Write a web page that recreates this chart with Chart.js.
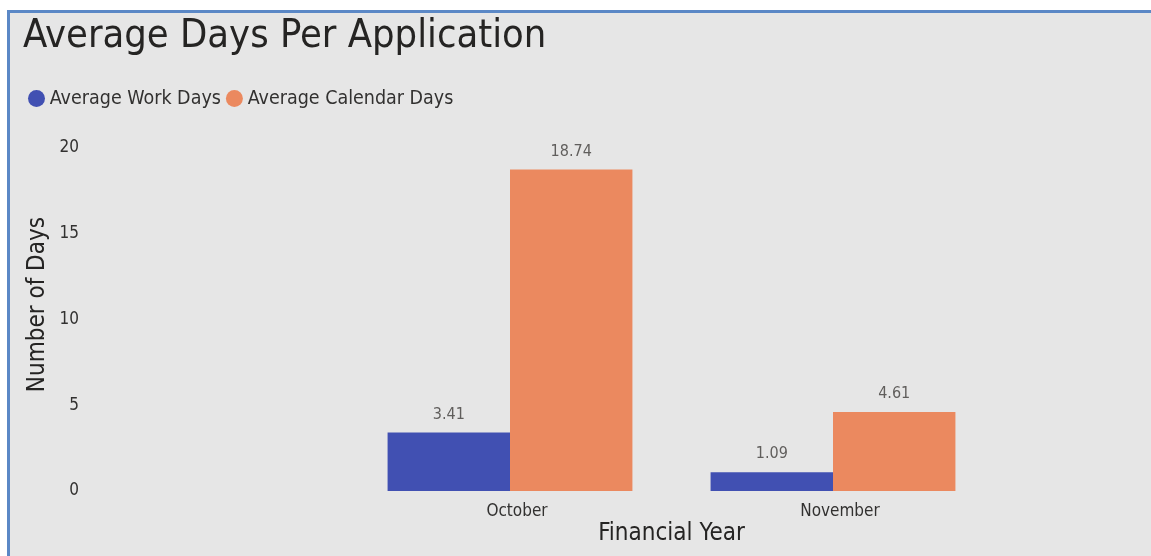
<!DOCTYPE html>
<html>
<head>
<meta charset="utf-8">
<script src="https://cdn.jsdelivr.net/npm/chart.js@4.4.1/dist/chart.umd.min.js"></script>
<style>
	html, body { margin: 0; padding: 0; background: #ffffff; }
	#frame {
		position: absolute; left: 7px; top: 10px; width: 1144px; height: 546px;
		background: #e6e6e6; border-left: 3px solid #5b88c6; border-top: 3px solid #5b88c6;
	}
	#wrap { position: absolute; left: 0; top: 0; width: 1151px; height: 556px; }
</style>
</head>
<body>
<div id="frame"></div>
<div id="wrap"><canvas id="myChart" width="1151" height="556"></canvas></div>
<script>
var months = ['October', 'November'];
var workDays = [3.41, 1.09];
var calendarDays = [18.74, 4.61];
var yTicks = [0, 5, 10, 15, 20];
var yMax = 21.73;

var fontName = "'Liberation Sans Narrow', 'DejaVu Sans Condensed', sans-serif";

// draw the value above every bar
var valueLabels = {
	id: 'valueLabels',
	afterDatasetsDraw: function(chart) {
		var ctx = chart.ctx;
		ctx.save();
		ctx.font = '16px ' + fontName;
		ctx.fillStyle = '#605e5c';
		ctx.textAlign = 'center';
		ctx.textBaseline = 'bottom';
		chart.data.datasets.forEach(function(ds, i) {
			chart.getDatasetMeta(i).data.forEach(function(bar, j) {
				ctx.fillText(ds.data[j].toFixed(2), bar.x, bar.y - 10);
			});
		});
		ctx.restore();
	}
};

var chartdata = {
	labels: months,
	datasets: [
		{
			label: 'Average Work Days',
			backgroundColor: '#4150b2',
			data: workDays
		},
		{
			label: 'Average Calendar Days',
			backgroundColor: '#eb895f',
			data: calendarDays
		}
	]
};

var ctx = document.getElementById('myChart');

var barGraph = new Chart(ctx, {
	type: 'bar',
	data: chartdata,
	plugins: [valueLabels],
	options: {
		responsive: false,
		animation: false,
		layout: { padding: { left: 23, right: 156.5, top: 0, bottom: 4 } },
		datasets: { bar: { categoryPercentage: 0.758, barPercentage: 1.0 } },
		plugins: {
			tooltip: { enabled: false },
			title: {
				display: true,
				text: 'Average Days Per Application',
				align: 'start',
				color: '#252423',
				font: { family: fontName, size: 39.5, weight: 'normal' },
				padding: { top: 13, bottom: 18.3 }
			},
			legend: {
				align: 'start',
				labels: {
					usePointStyle: true,
					pointStyle: 'circle',
					boxWidth: 7,
					boxHeight: 12,
					padding: 10,
					color: '#323130',
					font: { family: fontName, size: 19.5 }
				}
			}
		},
		scales: {
			x: {
				grid: { display: false, drawTicks: false },
				border: { display: false },
				ticks: { color: '#323130', padding: 10, labelOffset: 7, font: { family: fontName, size: 17 } },
				title: {
					display: true, text: 'Financial Year', color: '#252423',
					padding: { top: 0, bottom: 4 },
					font: { family: fontName, size: 24 }
				},
				afterFit: function(scale) { scale.height = 61; }
			},
			y: {
				min: 0,
				max: yMax,
				afterBuildTicks: function(scale) {
					scale.ticks = yTicks.map(function(v) { return { value: v }; });
				},
				grid: { display: false, drawTicks: false },
				border: { display: false },
				ticks: { color: '#323130', padding: 269.5, font: { family: fontName, size: 17 } },
				title: {
					display: true, text: 'Number of Days', color: '#252423',
					padding: { top: 0, bottom: 4 },
					font: { family: fontName, size: 24 }
				},
				afterFit: function(scale) {
					// keep the plot where the reference has it
					scale.width = 325.5;
					scale.paddingTop = 0;
					scale.paddingBottom = 0;
				}
			}
		}
	}
});
</script>
</body>
</html>
